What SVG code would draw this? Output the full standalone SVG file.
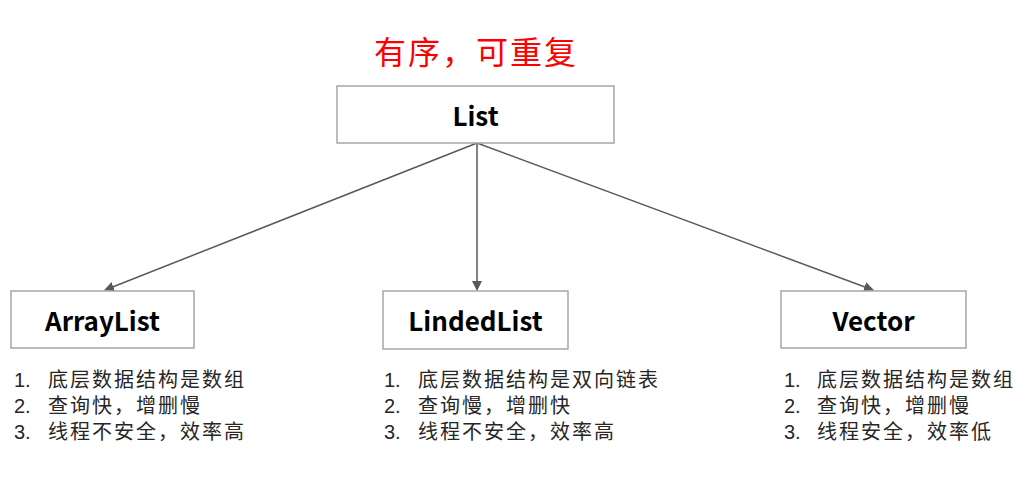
<svg xmlns="http://www.w3.org/2000/svg" width="1030" height="492" viewBox="0 0 1030 492">
<defs>
<style>
.box{fill:#fff;stroke:#a6a6a6;stroke-width:1.5}
.lbl{font-family:"Noto Sans CJK SC","Noto Sans",sans-serif;font-weight:bold;font-size:26px;fill:#000;text-anchor:middle}
.item{font-family:"Liberation Sans","Noto Sans CJK SC",sans-serif;font-size:20px;fill:#262626}
.cj{letter-spacing:2px}
.conn{stroke:#595959;stroke-width:1.5;fill:none}
</style>
<marker id="ah" markerWidth="10" markerHeight="10" refX="9" refY="5" orient="auto" markerUnits="userSpaceOnUse">
<path d="M0,0 L10,5 L0,10 z" fill="#595959"/>
</marker>
</defs>
<rect width="1030" height="492" fill="#fff"/>
<text x="476" y="64" font-family="'Noto Sans CJK SC',sans-serif" font-size="32" letter-spacing="2" fill="#ff0000" text-anchor="middle">有序，可重复</text>
<g id="connectors">
<line class="conn" x1="477" y1="143" x2="105" y2="290" marker-end="url(#ah)"/>
<line class="conn" x1="477" y1="143" x2="477" y2="290" marker-end="url(#ah)"/>
<line class="conn" x1="477" y1="143" x2="873" y2="290" marker-end="url(#ah)"/>
</g>
<g id="list">
<rect class="box" x="337" y="86" width="277" height="57"/>
<text class="lbl" x="475.5" y="126">List</text>
</g>
<g id="arraylist">
<rect class="box" x="11" y="291" width="183" height="57"/>
<text class="lbl" x="102.5" y="331">ArrayList</text>
<text class="item" x="14" y="387">1.</text><text class="item cj" x="48" y="387">底层数据结构是数组</text>
<text class="item" x="14" y="413">2.</text><text class="item cj" x="48" y="413">查询快，增删慢</text>
<text class="item" x="14" y="439">3.</text><text class="item cj" x="48" y="439">线程不安全，效率高</text>
</g>
<g id="lindedlist">
<rect class="box" x="383" y="291" width="185" height="58"/>
<text class="lbl" x="475.5" y="331">LindedList</text>
<text class="item" x="384" y="387">1.</text><text class="item cj" x="418" y="387">底层数据结构是双向链表</text>
<text class="item" x="384" y="413">2.</text><text class="item cj" x="418" y="413">查询慢，增删快</text>
<text class="item" x="384" y="439">3.</text><text class="item cj" x="418" y="439">线程不安全，效率高</text>
</g>
<g id="vector">
<rect class="box" x="781" y="291" width="185" height="57"/>
<text class="lbl" x="873.5" y="331">Vector</text>
<text class="item" x="784" y="387">1.</text><text class="item cj" x="817" y="387">底层数据结构是数组</text>
<text class="item" x="784" y="413">2.</text><text class="item cj" x="817" y="413">查询快，增删慢</text>
<text class="item" x="784" y="439">3.</text><text class="item cj" x="817" y="439">线程安全，效率低</text>
</g>
</svg>
